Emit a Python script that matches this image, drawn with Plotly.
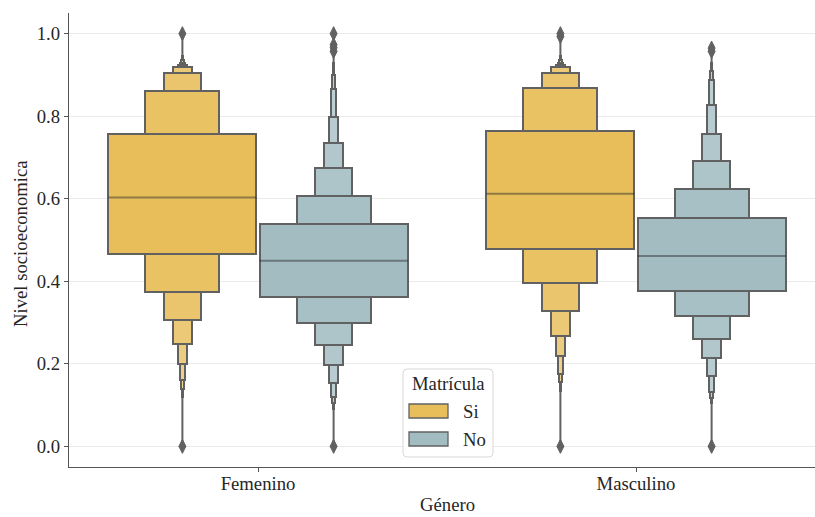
import plotly.graph_objects as go

# ---- data -------------------------------------------------------------
categories = ["Femenino", "Masculino"]
hue_levels = ["Si", "No"]

# Letter values per depth (quartiles first, then octiles, ...), lower and upper
fem_si_lower = [0.465, 0.375, 0.306, 0.248, 0.199, 0.160, 0.140, 0.120]
fem_si_upper = [0.757, 0.862, 0.905, 0.918, 0.925, 0.930, 0.936, 0.945]
fem_si_median = 0.603
fem_si_outliers = [0.0, 1.0]

fem_no_lower = [0.362, 0.299, 0.245, 0.198, 0.154, 0.120, 0.105, 0.090]
fem_no_upper = [0.539, 0.607, 0.674, 0.735, 0.799, 0.867, 0.900, 0.930]
fem_no_median = 0.450
fem_no_outliers = [0.0, 0.957, 0.966, 0.973, 1.0]

mas_si_lower = [0.478, 0.395, 0.328, 0.268, 0.218, 0.176, 0.155, 0.135]
mas_si_upper = [0.765, 0.868, 0.905, 0.918, 0.925, 0.930, 0.936, 0.945]
mas_si_median = 0.612
mas_si_outliers = [0.0, 0.993, 1.0]

mas_no_lower = [0.377, 0.316, 0.261, 0.214, 0.171, 0.132, 0.118, 0.104]
mas_no_upper = [0.554, 0.623, 0.692, 0.757, 0.826, 0.888, 0.910, 0.930]
mas_no_median = 0.461
mas_no_outliers = [0.0, 0.957, 0.965]

groups = [
    (0, "Si", fem_si_lower, fem_si_upper, fem_si_median, fem_si_outliers),
    (0, "No", fem_no_lower, fem_no_upper, fem_no_median, fem_no_outliers),
    (1, "Si", mas_si_lower, mas_si_upper, mas_si_median, mas_si_outliers),
    (1, "No", mas_no_lower, mas_no_upper, mas_no_median, mas_no_outliers),
]

# ---- style ------------------------------------------------------------
base_rgb = {"Si": (231, 190, 90), "No": (162, 188, 194)}
edge_gray = "#616161"
font_family = "Liberation Serif, Times New Roman, serif"
text_color = "#262626"
font_size = 18.7

box_width = 0.8 / len(hue_levels) * 0.98
hue_offset = {"Si": -0.2, "No": 0.2}
n_shades = 16  # colour gradient steps from the full hue towards white


def shade(rgb, depth):
    t = 0.85 * depth / (n_shades - 1)
    r, g, b = (round(c + t * (255 - c)) for c in rgb)
    return f"rgb({r},{g},{b})"


fig = go.Figure()

for cat, hue, lower, upper, median, outliers in groups:
    center = cat + hue_offset[hue]
    depths = list(range(len(lower)))[::-1]  # narrowest first, widest on top
    widths = [box_width * 0.5 ** d for d in depths]

    # thin tails running out to the extreme points
    fig.add_trace(go.Scatter(
        x=[center, center], y=[min(outliers), lower[-1]], mode="lines",
        line=dict(color=edge_gray, width=2), showlegend=False, hoverinfo="skip"))
    fig.add_trace(go.Scatter(
        x=[center, center], y=[upper[-1], max(outliers)], mode="lines",
        line=dict(color=edge_gray, width=2), showlegend=False, hoverinfo="skip"))

    fig.add_trace(go.Bar(
        x=[center] * len(depths),
        base=[lower[d] for d in depths],
        y=[upper[d] - lower[d] for d in depths],
        width=widths,
        marker=dict(color=[shade(base_rgb[hue], d) for d in depths],
                    line=dict(color=edge_gray, width=2)),
        showlegend=False, hoverinfo="skip"))

    fig.add_trace(go.Scatter(
        x=[center - box_width / 2, center + box_width / 2], y=[median, median],
        mode="lines", line=dict(color="rgba(38,38,38,0.45)", width=2),
        showlegend=False, hoverinfo="skip"))

    fig.add_trace(go.Scatter(
        x=[center] * len(outliers), y=outliers, mode="markers",
        marker=dict(symbol="diamond-tall", size=10, color=edge_gray,
                    line=dict(color=edge_gray, width=1)),
        showlegend=False, hoverinfo="skip"))

# ---- layout -----------------------------------------------------------
W, H = 815, 517
ml, mt, mb = 69, 13, 50
plot_w, plot_h = W - ml, H - mt - mb


def px(xp):
    return (xp - ml) / plot_w


def py(yp):
    return (H - mb - yp) / plot_h


axis_line = dict(showline=True, linecolor="#555555", linewidth=1.3,
                 ticks="outside", ticklen=4, tickwidth=1.2, tickcolor="#555555",
                 zeroline=False,
                 tickfont=dict(family=font_family, size=font_size, color=text_color))

fig.update_layout(
    width=W, height=H,
    margin=dict(l=ml, r=0, t=mt, b=mb),
    paper_bgcolor="white", plot_bgcolor="white",
    barmode="overlay", bargap=0,
    showlegend=False,
    xaxis=dict(range=[-0.5, -0.5 + plot_w / 378.0], tickvals=[0, 1],
               ticktext=categories, showgrid=False, ticklabelstandoff=-5,
               **axis_line),
    yaxis=dict(range=[-0.05, 1.05], tickvals=[0, 0.2, 0.4, 0.6, 0.8, 1.0],
               tickformat=".1f", showgrid=True, gridcolor="#EAEAEA", gridwidth=1,
               **axis_line),
)

annotations = [
    dict(text="Género", x=px(447), y=0, xref="paper", yref="paper",
         yshift=-(mb - 1), xanchor="center", yanchor="bottom", showarrow=False,
         borderpad=0,
         font=dict(family=font_family, size=font_size, color=text_color)),
    dict(text="Nivel socioeconomica", x=px(20), y=py(244), xref="paper", yref="paper",
         xanchor="center", yanchor="middle", textangle=-90, showarrow=False,
         font=dict(family=font_family, size=font_size, color=text_color)),
    # legend
    dict(text="Matrícula", x=px(448), y=py(383), xref="paper", yref="paper",
         xanchor="center", yanchor="middle", showarrow=False,
         font=dict(family=font_family, size=font_size, color=text_color)),
]

shapes = []
# legend frame with rounded corners
x0, x1, y0, y1 = 403, 493, 369, 457
r = 4
path = (f"M {px(x0 + r)} {py(y0)} L {px(x1 - r)} {py(y0)} "
        f"Q {px(x1)} {py(y0)} {px(x1)} {py(y0 + r)} L {px(x1)} {py(y1 - r)} "
        f"Q {px(x1)} {py(y1)} {px(x1 - r)} {py(y1)} L {px(x0 + r)} {py(y1)} "
        f"Q {px(x0)} {py(y1)} {px(x0)} {py(y1 - r)} L {px(x0)} {py(y0 + r)} "
        f"Q {px(x0)} {py(y0)} {px(x0 + r)} {py(y0)} Z")
shapes.append(dict(type="path", path=path, xref="paper", yref="paper",
                   fillcolor="rgba(255,255,255,0.8)",
                   line=dict(color="#D9D9D9", width=1), layer="above"))

for hue, yc in zip(hue_levels, [411, 439]):
    shapes.append(dict(type="rect", xref="paper", yref="paper",
                       x0=px(409), x1=px(448), y0=py(yc - 7), y1=py(yc + 7),
                       fillcolor=shade(base_rgb[hue], 0),
                       line=dict(color=edge_gray, width=1.3), layer="above"))
    annotations.append(dict(text=hue, x=px(461), y=py(yc), xref="paper", yref="paper",
                            xanchor="left", yanchor="middle", showarrow=False,
                            font=dict(family=font_family, size=font_size,
                                      color=text_color)))

fig.update_layout(shapes=shapes, annotations=annotations)

fig.write_html("out.html")
